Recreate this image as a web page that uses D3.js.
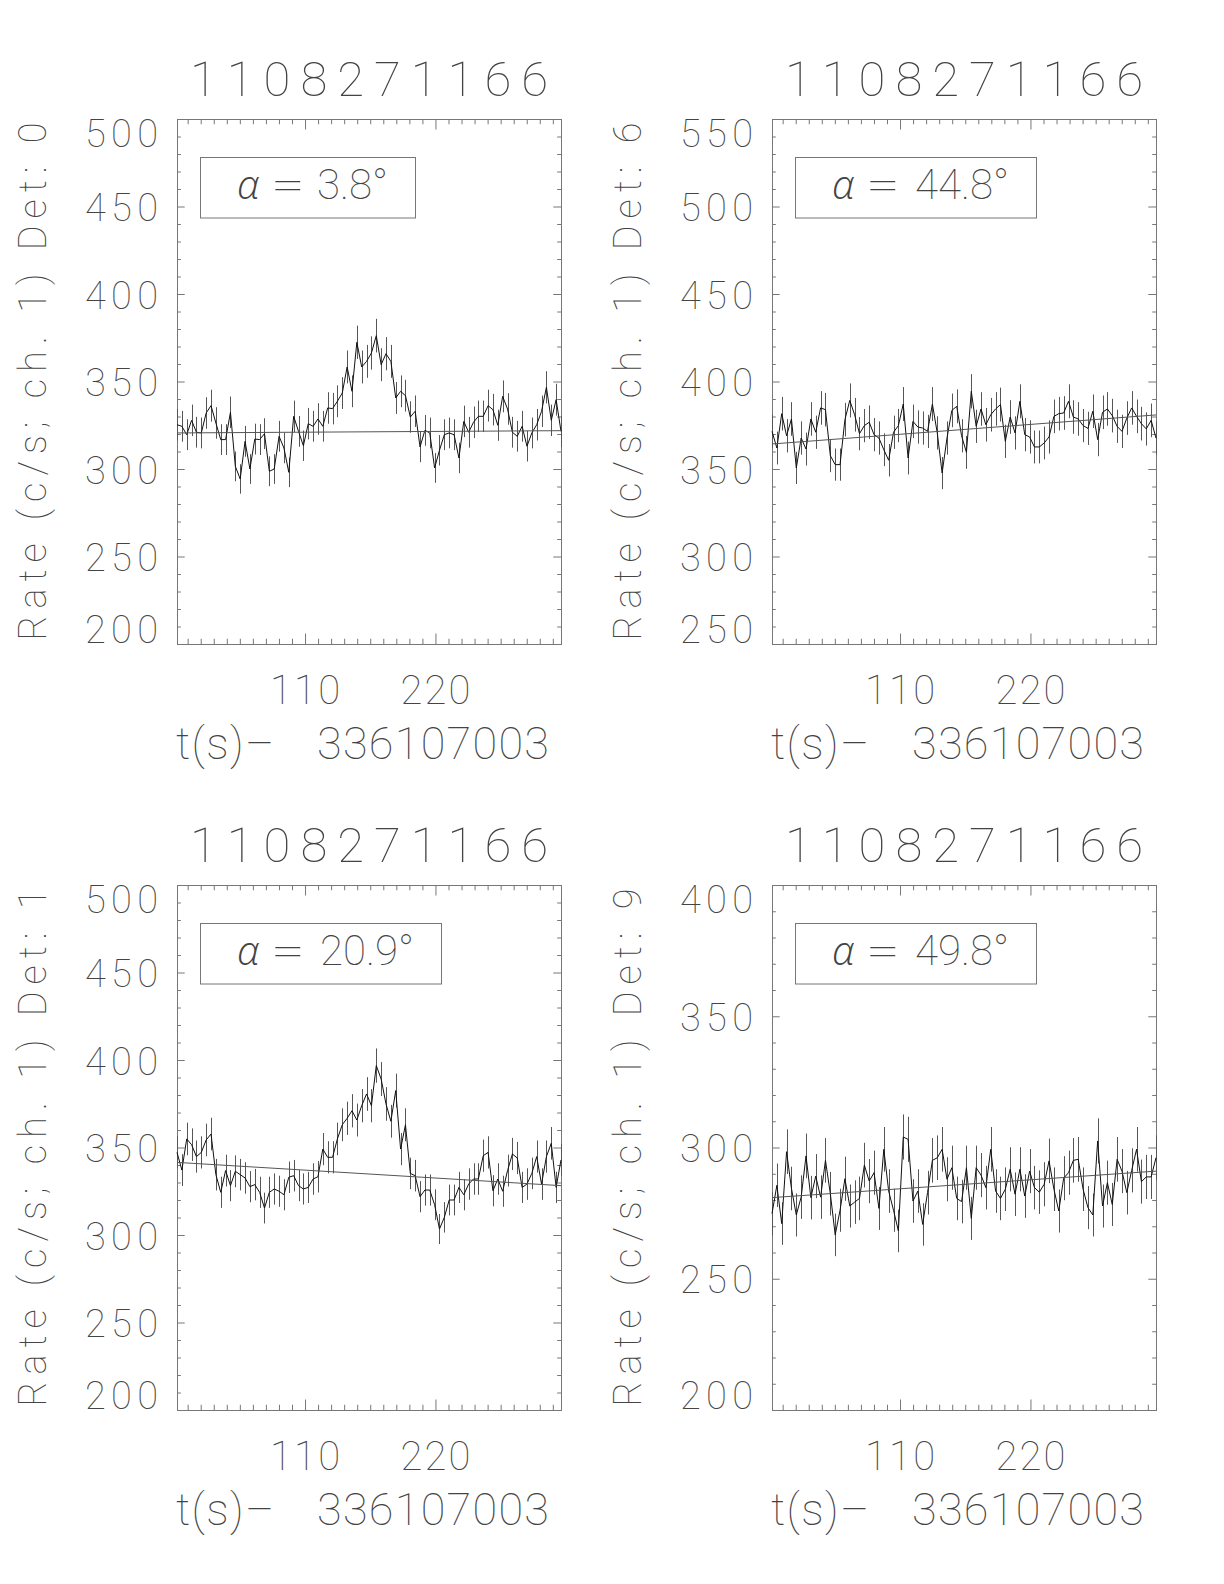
<!DOCTYPE html>
<html>
<head>
<meta charset="utf-8">
<script src="https://cdn.jsdelivr.net/npm/d3@7"></script>
<style>
  html, body { margin: 0; padding: 0; background: #fff; }
  text { font-family: Roboto, "DejaVu Sans", sans-serif; font-weight: 100; fill: #444; }
  text.greek { font-family: "Open Sans", "DejaVu Sans", sans-serif; font-style: italic; font-weight: 300; }
</style>
</head>
<body>
<script>
// ---------------- DATA ----------------
const burstId = "1108271166";
const t0Label = "336107003";
const times = [2.0, 6.1, 10.2, 14.3, 18.4, 22.5, 26.6, 30.7, 34.8, 38.9,
  43.0, 47.1, 51.2, 55.3, 59.4, 63.5, 67.6, 71.7, 75.8, 79.9,
  84.0, 88.1, 92.2, 96.3, 100.4, 104.5, 108.6, 112.7, 116.8, 120.9,
  125.0, 129.1, 133.2, 137.3, 141.4, 145.5, 149.6, 153.7, 157.8, 161.9,
  166.0, 170.1, 174.2, 178.3, 182.4, 186.5, 190.6, 194.7, 198.8, 202.9,
  207.0, 211.1, 215.2, 219.3, 223.4, 227.5, 231.6, 235.7, 239.8, 243.9,
  248.0, 252.1, 256.2, 260.3, 264.4, 268.5, 272.6, 276.7, 280.8, 284.9,
  289.0, 293.1, 297.2, 301.3, 305.4, 309.5, 313.6, 317.7, 321.8, 325.9];

const detLabels = [0, 6, 1, 9];
const alphas = ["3.8", "44.8", "20.9", "49.8"];

const det0Rate = [325.3,324.4,319.6,327.8,321.0,320.6,332.0,336.2,326.3,316.8,
  316.8,332.4,301.5,294.3,315.8,300.0,317.1,316.8,320.2,298.7,
  300.0,318.7,312.0,298.1,330.1,321.5,313.3,325.9,324.4,328.6,
  324.4,334.9,334.5,338.7,343.4,358.3,344.4,372.4,358.3,361.5,
  366.3,376.2,359.6,365.9,361.5,340.6,344.4,341.9,329.7,333.0,
  312.6,322.1,320.6,300.6,310.7,319.6,320.6,319.6,306.3,327.2,
  321.0,326.7,330.1,330.1,336.2,333.9,325.0,341.5,334.3,321.0,
  318.7,324.4,313.0,320.6,325.3,333.0,346.7,327.8,339.6,321.5];
const det0Err = [9.0,8.8,8.8,9.0,8.8,8.8,9.0,9.1,9.0,8.8,
  8.8,9.0,8.5,8.4,8.8,8.5,8.8,8.8,8.8,8.5,
  8.5,8.8,8.7,8.5,9.0,8.8,8.7,9.0,8.8,9.0,
  8.8,9.0,9.0,9.1,9.1,9.4,9.1,9.5,9.4,9.4,
  9.5,9.6,9.4,9.5,9.4,9.1,9.1,9.1,9.0,9.0,
  8.7,8.8,8.8,8.5,8.7,8.8,8.8,8.8,8.7,9.0,
  8.8,9.0,9.0,9.0,9.1,9.0,8.9,9.1,9.0,8.8,
  8.8,8.8,8.7,8.8,9.0,9.0,9.2,9.0,9.1,8.8];
const det0Fit = [320.6, 321.9];

const det6Rate = [371.5,362.0,381.6,369.0,378.6,350.6,367.7,361.4,378.6,371.0,
  384.9,383.9,357.6,352.5,352.5,378.2,389.2,381.0,370.2,374.8,
  376.7,369.6,367.7,361.0,355.0,371.0,374.8,387.1,356.3,377.2,
  374.0,373.4,371.5,387.1,370.6,347.7,367.7,383.5,385.8,369.0,
  359.5,394.4,374.4,384.3,375.3,381.0,384.3,386.8,365.8,379.7,
  370.6,388.7,369.6,368.3,362.6,362.6,364.9,368.3,380.1,381.6,
  382.0,388.7,379.7,378.6,374.8,373.2,383.0,366.8,382.4,384.3,
  380.5,374.4,371.5,379.1,384.9,380.1,375.9,372.9,377.8,367.7];
const det6Err = [9.5,9.4,9.6,9.5,9.6,9.2,9.5,9.4,9.6,9.5,
  9.6,9.6,9.4,9.2,9.2,9.6,9.7,9.6,9.5,9.5,
  9.6,9.5,9.5,9.4,9.3,9.5,9.5,9.7,9.4,9.6,
  9.5,9.5,9.5,9.7,9.5,9.2,9.5,9.6,9.7,9.5,
  9.4,9.8,9.5,9.6,9.6,9.6,9.6,9.7,9.5,9.6,
  9.5,9.7,9.5,9.5,9.4,9.4,9.4,9.5,9.6,9.6,
  9.6,9.7,9.6,9.6,9.5,9.5,9.6,9.5,9.6,9.6,
  9.6,9.5,9.5,9.6,9.6,9.6,9.6,9.5,9.6,9.5];
const det6Fit = [364.3, 380.9];

const det1Rate = [347.2,337.1,354.9,351.6,344.8,347.2,354.3,357.7,334.5,324.4,
  336.8,328.2,336.4,334.5,332.6,327.6,328.8,324.4,315.4,324.4,
  326.3,325.0,323.0,333.0,333.9,328.2,326.3,327.2,332.0,333.3,
  349.1,344.4,344.4,354.9,363.0,366.7,371.0,365.7,373.9,380.6,
  373.9,396.8,389.1,374.9,365.0,382.5,349.1,363.0,335.2,333.9,
  321.9,325.7,325.7,317.3,303.4,310.1,320.0,320.0,327.2,323.0,
  329.1,332.0,332.0,345.3,347.2,325.3,332.0,325.0,336.8,346.3,
  344.0,327.2,329.1,335.2,344.8,329.1,344.8,352.4,327.2,342.9];
const det1Err = [9.2,9.1,9.3,9.3,9.2,9.2,9.3,9.3,9.0,8.9,
  9.1,8.9,9.1,9.0,9.0,8.9,9.0,8.9,8.8,8.9,
  8.9,8.9,8.9,9.0,9.0,8.9,8.9,8.9,9.0,9.0,
  9.2,9.2,9.2,9.3,9.4,9.5,9.5,9.4,9.5,9.6,
  9.5,9.8,9.7,9.6,9.4,9.7,9.2,9.4,9.0,9.0,
  8.9,8.9,8.9,8.8,8.6,8.7,8.8,8.8,8.9,8.9,
  9.0,9.0,9.0,9.2,9.2,8.9,9.0,8.9,9.1,9.2,
  9.2,8.9,9.0,9.0,9.2,9.0,9.2,9.3,8.9,9.1];
const det1Fit = [341.5, 328.2];

const det9Rate = [274.8,285.6,271.0,298.4,284.4,274.3,281.1,296.8,280.9,289.1,
  281.1,295.1,282.4,266.7,276.1,288.1,277.7,279.2,280.6,293.3,
  287.2,290.4,276.8,299.3,283.4,276.1,268.2,304.0,303.1,279.6,
  283.4,270.7,282.8,295.1,296.1,299.3,287.9,292.3,280.6,279.4,
  292.3,273.0,292.3,289.5,284.7,299.3,283.4,280.6,284.1,291.7,
  282.2,291.7,281.5,291.0,284.7,283.0,286.0,294.9,284.1,275.8,
  288.3,290.4,295.1,295.5,284.1,277.1,274.3,302.5,277.7,286.6,
  278.3,295.5,291.0,282.8,291.3,299.3,287.0,288.8,288.8,296.1];
const det9Err = [8.2,8.3,8.1,8.5,8.3,8.2,8.3,8.5,8.3,8.4,
  8.3,8.5,8.3,8.1,8.2,8.4,8.2,8.3,8.3,8.5,
  8.4,8.4,8.2,8.5,8.3,8.2,8.1,8.6,8.6,8.3,
  8.3,8.1,8.3,8.5,8.5,8.5,8.4,8.4,8.3,8.3,
  8.4,8.2,8.4,8.4,8.3,8.5,8.3,8.3,8.3,8.4,
  8.3,8.4,8.3,8.4,8.3,8.3,8.4,8.5,8.3,8.2,
  8.4,8.4,8.5,8.5,8.3,8.2,8.2,8.6,8.2,8.4,
  8.2,8.5,8.4,8.3,8.4,8.5,8.4,8.4,8.4,8.5];
const det9Fit = [280.9, 291.0];

const yTicks0 = [200, 250, 300, 350, 400, 450, 500];
const yTicks6 = [250, 300, 350, 400, 450, 500, 550];
const yTicks1 = [200, 250, 300, 350, 400, 450, 500];
const yTicks9 = [200, 250, 300, 350, 400];
const xTickLabels = [110, 220];
const xMinorStep = 11;
const yMinorStep = 10;

// ---------------- LAYOUT ----------------
const W = 1224, H = 1584;
const PW = 384, PH = 525;
const panels = [
  { det: detLabels[0], alpha: alphas[0], rate: det0Rate, err: det0Err, fit: det0Fit, yt: yTicks0, x0: 177, y0: 119 },
  { det: detLabels[1], alpha: alphas[1], rate: det6Rate, err: det6Err, fit: det6Fit, yt: yTicks6, x0: 772, y0: 119 },
  { det: detLabels[2], alpha: alphas[2], rate: det1Rate, err: det1Err, fit: det1Fit, yt: yTicks1, x0: 177, y0: 885 },
  { det: detLabels[3], alpha: alphas[3], rate: det9Rate, err: det9Err, fit: det9Fit, yt: yTicks9, x0: 772, y0: 885 }
];
const axisColor = "#777";

const svg = d3.select("body").append("svg")
  .attr("width", W).attr("height", H)
  .attr("viewBox", `0 0 ${W} ${H}`);
svg.append("rect").attr("width", W).attr("height", H).attr("fill", "#fff");

function tickAxis(g, axisFn, scale, values, size, tr) {
  const a = axisFn(scale).tickValues(values).tickSize(size).tickFormat("");
  const ag = g.append("g").attr("transform", tr).call(a);
  ag.select(".domain").remove();
  ag.selectAll("line").attr("stroke", axisColor).attr("stroke-width", 1);
}

panels.forEach(p => {
  const x0 = p.x0, y0 = p.y0, x1 = x0 + PW, y1 = y0 + PH;
  const cx = (x0 + x1) / 2;
  const g = svg.append("g");
  const x = d3.scaleLinear().domain(d3.extent(times)).range([x0, x1]);
  const yMin = d3.min(p.yt), yMax = d3.max(p.yt);
  const y = d3.scaleLinear().domain([yMin, yMax]).range([y1, y0]);

  // frame
  g.append("rect").attr("x", x0 + 0.5).attr("y", y0 + 0.5)
    .attr("width", PW).attr("height", PH)
    .attr("fill", "none").attr("stroke", axisColor).attr("stroke-width", 1);

  // x ticks
  const xMin = d3.range(xMinorStep, x.domain()[1], xMinorStep).filter(v => v >= x.domain()[0] && !xTickLabels.includes(v));
  tickAxis(g, d3.axisBottom, x, xTickLabels, -10.5, `translate(0,${y1})`);
  tickAxis(g, d3.axisBottom, x, xMin, -5.25, `translate(0,${y1})`);
  tickAxis(g, d3.axisTop, x, xTickLabels, -10.5, `translate(0,${y0})`);
  tickAxis(g, d3.axisTop, x, xMin, -5.25, `translate(0,${y0})`);
  // y ticks
  const yMinor = d3.range(yMin, yMax + 0.1, yMinorStep).filter(v => !p.yt.includes(v));
  tickAxis(g, d3.axisLeft, y, p.yt, -7.7, `translate(${x0},0)`);
  tickAxis(g, d3.axisLeft, y, yMinor, -3.8, `translate(${x0},0)`);
  tickAxis(g, d3.axisRight, y, p.yt, -7.7, `translate(${x1},0)`);
  tickAxis(g, d3.axisRight, y, yMinor, -3.8, `translate(${x1},0)`);

  // error bars
  g.append("g").selectAll("line").data(p.rate).join("line")
    .attr("x1", (d, i) => Math.round(x(times[i])) + 0.5)
    .attr("x2", (d, i) => Math.round(x(times[i])) + 0.5)
    .attr("y1", (d, i) => y(d - p.err[i]))
    .attr("y2", (d, i) => y(d + p.err[i]))
    .attr("stroke", "#555").attr("stroke-width", 1);

  // data line
  const line = d3.line().x((d, i) => x(times[i])).y(d => y(d));
  g.append("path").datum(p.rate).attr("d", line)
    .attr("fill", "none").attr("stroke", "#111").attr("stroke-width", 1);

  // fit line
  const ft = d3.extent(times);
  g.append("path").datum(p.fit)
    .attr("d", d3.line().x((d, i) => x(ft[i])).y(d => y(d)))
    .attr("fill", "none").attr("stroke", "#555").attr("stroke-width", 1);

  // y tick labels
  g.selectAll("text.yl").data(p.yt).join("text").attr("class", "yl")
    .attr("x", x0 - 19)
    .attr("y", v => v === yMax ? y0 + 28 : (v === yMin ? y1 - 1 : y(v) + 14.5))
    .attr("text-anchor", "end")
    .attr("font-size", 38)
    .attr("textLength", 73).attr("lengthAdjust", "spacing")
    .text(v => v);

  // x tick labels
  g.selectAll("text.xl").data(xTickLabels).join("text").attr("class", "xl")
    .attr("x", v => x(v)).attr("y", y1 + 60)
    .attr("text-anchor", "middle").attr("font-size", 40)
    .attr("textLength", 70).attr("lengthAdjust", "spacing")
    .text(v => v);

  // x title (two pieces, as in the original vector-font layout)
  g.append("text").attr("x", cx - 193).attr("y", y1 + 115)
    .attr("font-size", 45)
    .attr("textLength", 98).attr("lengthAdjust", "spacing")
    .text("t(s)–");
  g.append("text").attr("x", cx + 180).attr("y", y1 + 115)
    .attr("text-anchor", "end").attr("font-size", 45)
    .attr("textLength", 232).attr("lengthAdjust", "spacing")
    .text(t0Label);

  // main title
  g.append("text").attr("x", cx).attr("y", y0 - 23)
    .attr("text-anchor", "middle").attr("font-size", 49)
    .attr("textLength", 358).attr("lengthAdjust", "spacing")
    .text(burstId);

  // y title
  g.append("text")
    .attr("transform", `translate(${x0 - 131},${(y0 + y1) / 2}) rotate(-90)`)
    .attr("text-anchor", "middle").attr("font-size", 38)
    .attr("textLength", 518).attr("lengthAdjust", "spacing")
    .text("Rate (c/s; ch. 1) Det: " + p.det);

  // legend box
  const valStr = p.alpha + "°";
  const bx = x0 + 23, by = y0 + 38.5, bw = 111 + 26 * valStr.length, bh = 60.5;
  g.append("rect").attr("x", bx + 0.5).attr("y", by).attr("width", bw).attr("height", bh)
    .attr("fill", "none").attr("stroke", axisColor).attr("stroke-width", 1);
  g.append("text").attr("class", "greek").attr("x", bx + 37).attr("y", by + 41.5)
    .attr("font-size", 40).text("α");
  g.append("text").attr("x", bx + 71).attr("y", by + 41.5)
    .attr("font-size", 42)
    .attr("textLength", 34).attr("lengthAdjust", "spacingAndGlyphs")
    .text("=");
  g.append("text").attr("x", bx + bw - 27).attr("y", by + 41.5)
    .attr("text-anchor", "end").attr("font-size", 42).text(valStr);
});
</script>
</body>
</html>
